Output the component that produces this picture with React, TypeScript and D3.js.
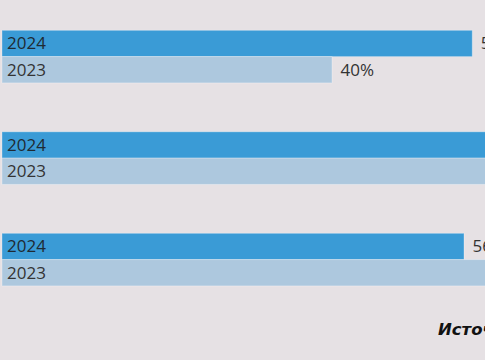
import React from "react";
import * as d3 from "d3";

const groups = ["g1", "g2", "g3"];
const series = ["2024", "2023"];
const values2024 = [57, 72, 56];
const values2023 = [40, 68, 63];
const sourceText = "Источник: данные компании";

const W = 485;
const H = 360;

export default function App() {
  const x = d3.scaleLinear().domain([0, 100]).range([2, 2 + 825]);
  const gy = d3.scaleLinear().domain([0, 2]).range([30.3, 233.3]);
  const barH = 26.3;
  const colors: Record<string, string> = { "2024": "#3a9bd6", "2023": "#adc8de" };
  const font = "'Open Sans', 'Noto Sans', sans-serif";

  return (
    <div style={{ position: "fixed", left: 0, top: 0, width: W, height: H }}>
      <svg width={W} height={H} style={{ display: "block", background: "#e6e1e4" }}>
        {groups.map((g, i) => {
          const vals = [values2024[i], values2023[i]];
          return (
            <g key={g}>
              {series.map((s, j) => {
                const y0 = gy(i) + j * barH;
                const v = vals[j];
                return (
                  <g key={s}>
                    <rect
                      x={x(0)}
                      y={y0}
                      width={x(v) - x(0)}
                      height={barH}
                      fill={colors[s]}
                      stroke="rgba(255,255,255,0.3)"
                      strokeWidth={1}
                    />
                    <text
                      x={7}
                      y={y0 + barH / 2 + 6}
                      fontFamily={font}
                      fontSize={17}
                      fill={j === 0 ? "#1f2a33" : "#333"}
                    >
                      {s}
                    </text>
                    <text
                      x={x(v) + 8.5}
                      y={y0 + barH / 2 + 6}
                      fontFamily={font}
                      fontSize={17}
                      fill="#333"
                    >
                      {v + "%"}
                    </text>
                  </g>
                );
              })}
            </g>
          );
        })}
        <text
          x={438}
          y={335}
          fontFamily="'DejaVu Sans', sans-serif"
          fontSize={16.5}
          fontWeight="bold"
          fontStyle="italic"
          fill="#111"
        >
          {sourceText}
        </text>
      </svg>
    </div>
  );
}
